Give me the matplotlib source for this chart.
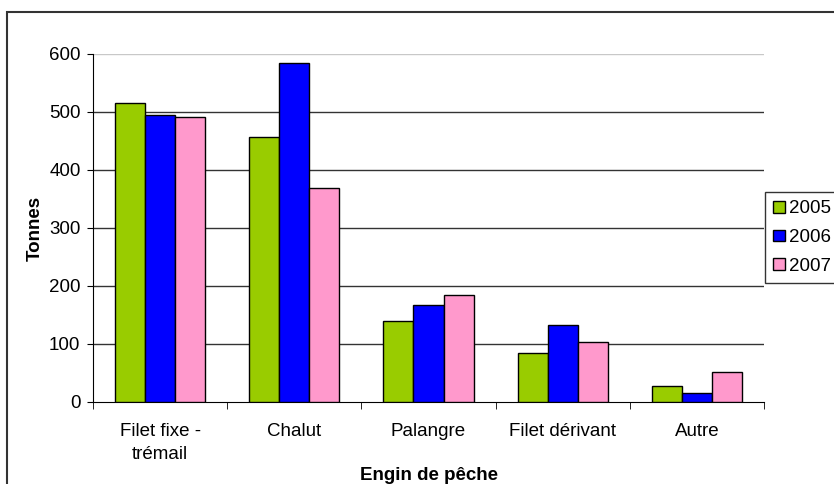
import numpy as np
import matplotlib.pyplot as plt
from matplotlib.patches import Rectangle

plt.rcParams['font.family'] = ['Liberation Sans', 'DejaVu Sans']

engins = ['Filet fixe -\ntrémail', 'Chalut', 'Palangre', 'Filet dérivant', 'Autre']
annees = ['2005', '2006', '2007']
v2005 = [515, 457, 140, 84, 28]
v2006 = [495, 584, 167, 133, 15]
v2007 = [491, 369, 184, 103, 52]
couleurs = ['#99cc00', '#0000ff', '#ff99cc']

fs = 13.5
fig = plt.figure(figsize=(8.34, 4.84), dpi=100)
ax = fig.add_axes([93/834, 82/484, (764-93)/834, (402-54)/484])

x = np.arange(len(engins))
w = 0.224
for i, (vals, lab) in enumerate(zip([v2005, v2006, v2007], annees)):
    ax.bar(x + (i-1)*w, vals, w, color=couleurs[i], edgecolor='black',
           linewidth=1, label=lab, zorder=3)

ax.set_xlim(-0.5, len(engins)-0.5)
ax.set_ylim(0, 600)
ax.set_yticks(range(0, 601, 100))
for yv in range(100, 600, 100):
    ax.axhline(yv, color='#333333', linewidth=1, zorder=1)
ax.axhline(600, color='#c8c8c8', linewidth=1, zorder=1)

ax.set_xticks(x)
ax.set_xticklabels(engins, fontsize=fs, linespacing=1.45)
ax.tick_params(axis='x', which='major', length=0, pad=15)
ax.set_xticks(np.arange(-0.5, len(engins), 1), minor=True)
ax.tick_params(axis='x', which='minor', length=5, color='black')
ax.tick_params(axis='y', length=4, labelsize=fs, color='black', pad=5)

for s in ['top', 'right']:
    ax.spines[s].set_visible(False)
ax.spines['left'].set_color('black')
ax.spines['bottom'].set_color('black')

ax.set_ylabel('Tonnes', fontsize=fs, fontweight='bold', labelpad=4)
ax.set_xlabel('Engin de pêche', fontsize=fs, fontweight='bold', labelpad=3)

leg = fig.legend(loc='upper left', bbox_to_anchor=(765/834, 1 - 192/484),
                 fontsize=fs, frameon=True, fancybox=False, handlelength=0.6,
                 handleheight=0.6, handletextpad=0.25, borderpad=0.45,
                 borderaxespad=0, labelspacing=0.62)
leg.get_frame().set_edgecolor('black')
leg.get_frame().set_linewidth(1)

fig.patches.append(Rectangle((7/834, -0.1), 1.0, 1 - 12/484 + 0.1,
                             transform=fig.transFigure, fill=False,
                             edgecolor='#333333', linewidth=1.5))

fig.savefig('out.png', dpi=100)
